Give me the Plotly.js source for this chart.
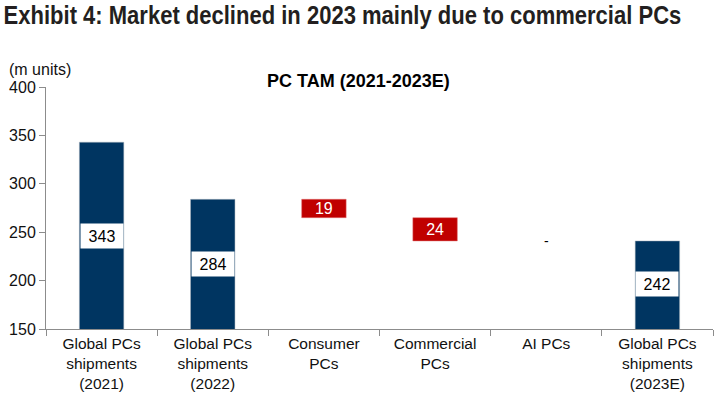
<!DOCTYPE html>
<html>
<head>
<meta charset="utf-8">
<script src="https://cdn.plot.ly/plotly-3.0.1.min.js"></script>
<style>html,body{margin:0;padding:0;background:#fff;}#chart{width:717px;height:396px;}</style>
</head>
<body>
<div id="chart"></div>
<script>
var categories = ["Global PCs<br>shipments<br>(2021)", "Global PCs<br>shipments<br>(2022)", "Consumer<br>PCs", "Commercial<br>PCs", "AI PCs", "Global PCs<br>shipments<br>(2023E)"];
var values = [343, 284, -19, -24, 0, 242];
var measures = ["absolute", "absolute", "relative", "relative", "relative", "total"];
var changeLabels = ["", "", "19", "24", "", ""];
var yTicks = [150, 200, 250, 300, 350, 400];

var yMin = 150, yMax = 400;
var navy = "#003561", red = "#C00000";
var fontMain = "Liberation Sans, Arial, sans-serif";

var trace = {
  type: "waterfall",
  x: categories,
  y: values,
  measure: measures,
  text: changeLabels,
  textposition: "inside",
  insidetextanchor: "middle",
  constraintext: "none",
  textfont: {family: fontMain, size: 16, color: "#ffffff"},
  width: 0.4,
  connector: {visible: false},
  decreasing: {marker: {color: red, line: {color: "#e07070", width: 0.5}}},
  increasing: {marker: {color: red}},
  totals: {marker: {color: navy, line: {color: "#b0b8c0", width: 0.5}}},
  hoverinfo: "skip",
  cliponaxis: false
};

var annotations = [];
var level = 0;
for (var i = 0; i < values.length; i++) {
  if (measures[i] === "absolute") level = values[i];
  else if (measures[i] === "relative") level += values[i];
  if (measures[i] === "absolute" || measures[i] === "total") {
    var tot = measures[i] === "total" ? values[i] : level;
    annotations.push({
      x: categories[i], y: (yMin + tot) / 2, xref: "x", yref: "y",
      text: String(tot), showarrow: false,
      font: {family: fontMain, size: 16, color: "#000"},
      bgcolor: "#ffffff", width: 38, height: 20, borderpad: 2
    });
  } else if (values[i] === 0) {
    annotations.push({
      x: categories[i], y: level, xref: "x", yref: "y",
      text: "-", showarrow: false,
      font: {family: fontMain, size: 14, color: "#000"}
    });
  }
}
annotations.push({
  text: "(m units)", xref: "paper", yref: "paper",
  x: -39 / 667, y: (329 - 69) / 242, xanchor: "left", yanchor: "middle",
  showarrow: false, font: {family: fontMain, size: 16, color: "#111"}
});
annotations.push({
  text: "<b>PC TAM (2021-2023E)</b>", xref: "paper", yref: "paper",
  x: (358 - 46) / 667, y: (329 - 81) / 242, xanchor: "center", yanchor: "middle",
  showarrow: false, font: {family: fontMain, size: 18, color: "#000"}
});

var layout = {
  width: 717, height: 396,
  margin: {l: 46, r: 4, t: 87, b: 67},
  paper_bgcolor: "#fff", plot_bgcolor: "#fff",
  showlegend: false,
  title: {
    text: "<b>Exhibit 4: Market declined in 2023 mainly due to commercial PCs</b>",
    x: 0.005, xanchor: "left", xref: "container",
    y: 0.962, yanchor: "middle", yref: "container",
    font: {family: fontMain, size: 25, color: "#231f20"}
  },
  xaxis: {
    type: "category",
    showline: true, linecolor: "#8c8c8c", linewidth: 1,
    ticks: "outside", tickson: "boundaries", ticklen: 6, tickcolor: "#8c8c8c",
    tickfont: {family: fontMain, size: 15.5, color: "#111"},
    showgrid: false, zeroline: false, fixedrange: true
  },
  yaxis: {
    range: [yMin, yMax], tickvals: yTicks, ticktext: yTicks.map(String),
    showline: true, linecolor: "#8c8c8c", linewidth: 1,
    ticks: "outside", ticklen: 6, tickcolor: "#8c8c8c",
    tickfont: {family: fontMain, size: 16, color: "#111"},
    showgrid: false, zeroline: false, fixedrange: true
  },
  annotations: annotations
};

Plotly.newPlot("chart", [trace], layout, {displayModeBar: false, staticPlot: true}).then(function (gd) {
  // condense the headline horizontally to the narrow width of the original
  var t = gd.querySelector(".gtitle");
  if (t) {
    var w = t.getComputedTextLength();
    var target = 678;
    if (w > 0) {
      var s = target / w;
      var x0 = parseFloat(t.getAttribute("x")) || 0;
      var prev = t.getAttribute("transform") || "";
      t.setAttribute("transform", prev + " translate(" + (x0 * (1 - s)) + ",0) scale(" + s + ",1)");
    }
  }
});
</script>
</body>
</html>
